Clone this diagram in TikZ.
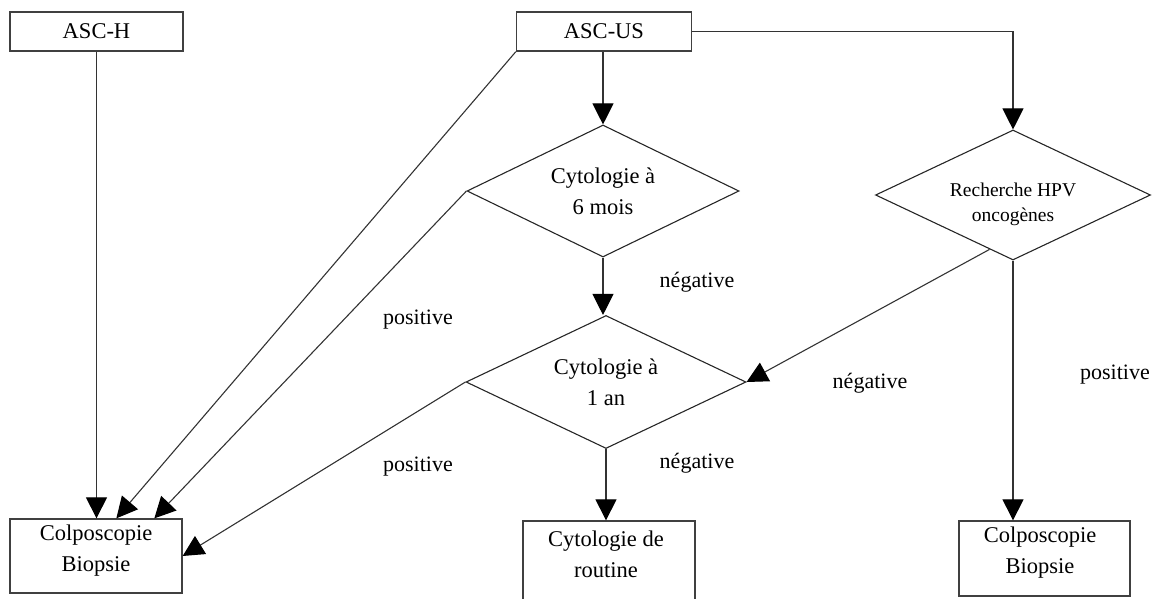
\documentclass[tikz,border=0pt]{standalone}
\usepackage{fontspec}
\setmainfont{Liberation Serif}
\usetikzlibrary{shapes.geometric,arrows.meta,calc}
\begin{document}
\begin{tikzpicture}[x=1pt,y=-1pt,
  box/.style={draw=black!75,line width=1.3pt,rectangle,minimum width=173pt,minimum height=39pt,inner sep=0pt,font=\fontsize{22.5}{31}\selectfont},
  lowbox/.style={draw=black!75,line width=1.3pt,rectangle,minimum width=172pt,inner sep=0pt},
  dia/.style={draw=black!85,line width=1.1pt,diamond,aspect=2,inner sep=0pt},
  txt/.style={align=center,inner sep=0pt,font=\fontsize{22.5}{31}\selectfont},
  lbl/.style={inner sep=0pt,font=\fontsize{22}{26}\selectfont},
  conn/.style={draw=black!80,line width=1.1pt},
  arr/.style={conn,-{Triangle[width=21pt,length=21pt,color=black,fill=black]}}]
\useasboundingbox (0,0) rectangle (1152,599);
% top boxes
\node[box] (asch) at (96.5,31.5) {ASC-H};
\node[box,minimum width=175pt] (ascus) at (604,31.5) {ASC-US};
% diamonds
\node[dia,minimum width=272pt,minimum height=132pt] (d6) at (603,191) {};
\node[txt] (d6t) at (603,191) {Cytologie à\\6 mois};
\node[dia,minimum width=280pt,minimum height=133pt] (d1) at (606,382) {};
\node[txt] (d1t) at (606,382) {Cytologie à\\1 an};
\node[dia,minimum width=275pt,minimum height=130pt] (hpv) at (1013,195) {};
\node[txt,font=\fontsize{19.5}{25}\selectfont] (hpvt) at (1013,204) {Recherche HPV\\oncogènes};
% bottom boxes
\node[lowbox,minimum height=74pt] (colpoL) at (96,556) {};
\node[txt] (colpoLt) at (96,551) {Colposcopie\\Biopsie};
\node[lowbox,minimum height=100pt] (routine) at (609,571) {};
\node[txt] (routinet) at (606,554) {Cytologie de\\routine};
\node[lowbox,minimum width=171pt,minimum height=75pt] (colpoR) at (1044.5,558.5) {};
\node[txt] (colpoRt) at (1040,553) {Colposcopie\\Biopsie};
% connector end points
\coordinate (cL2) at ($(colpoL.north west)+(107,0)$);
\coordinate (cL3) at ($(colpoL.north west)+(145,0)$);
\coordinate (hpvout) at ($(hpv.west)!0.83!(hpv.south)$);
% connectors
\draw[arr] (asch.south) -- (asch.south |- colpoL.north);
\draw[arr] (ascus.south west) -- (cL2);
\draw[arr] (d6.west) -- (cL3);
\draw[arr] (d1.west) -- (colpoL.east);
\draw[arr] (ascus.south -| d6.north) -- (d6.north);
\draw[arr] (d6.south) -- (d6.south |- d1.north);
\draw[arr] (d1.south) -- (d1.south |- routine.north);
\draw[arr] (ascus.east) -- (ascus.east -| hpv.north) -- (hpv.north);
\draw[arr] (hpv.south) -- (hpv.south |- colpoR.north);
\draw[arr] (hpvout) -- (d1.east);
% labels
\node[lbl] (l1) at (418,320) {positive};
\node[lbl] (l2) at (697,282) {négative};
\node[lbl] (l3) at (870,383) {négative};
\node[lbl] (l4) at (1115,375) {positive};
\node[lbl] (l5) at (418,467) {positive};
\node[lbl] (l6) at (697,463) {négative};
\end{tikzpicture}
\end{document}
